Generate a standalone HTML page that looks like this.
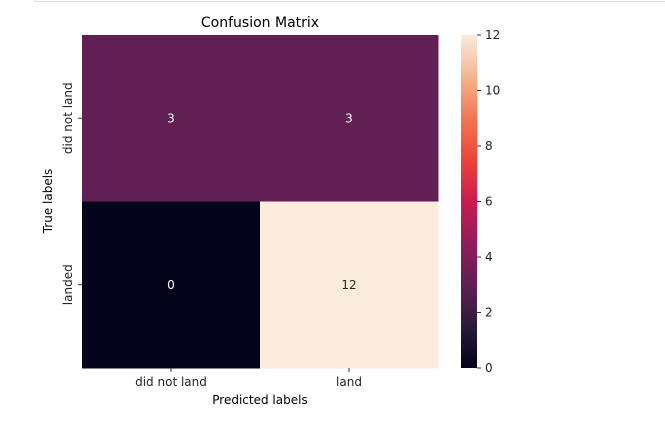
<!DOCTYPE html>
<html><head><meta charset="utf-8"><style>
body{margin:0;background:#fff;width:665px;height:419px;overflow:hidden;font-family:"DejaVu Sans","Liberation Sans",sans-serif;}
</style></head><body>
<svg width="665" height="419" font-family="DejaVu Sans, Liberation Sans, sans-serif">
<defs><linearGradient id="rocket" x1="0" y1="1" x2="0" y2="0">
<stop offset="0" stop-color="#03051a"/><stop offset="0.125" stop-color="#2b1a3d"/>
<stop offset="0.25" stop-color="#611f53"/><stop offset="0.375" stop-color="#921c5b"/>
<stop offset="0.5" stop-color="#cb1b4f"/><stop offset="0.625" stop-color="#ed4438"/>
<stop offset="0.75" stop-color="#f37651"/><stop offset="0.875" stop-color="#f6b48e"/>
<stop offset="1" stop-color="#faebdd"/></linearGradient></defs>
<line x1="34" y1="1.5" x2="665" y2="1.5" stroke="#ddd"/>
<line x1="34.5" y1="0" x2="34.5" y2="2" stroke="#ddd"/>
<text x="260" y="27" text-anchor="middle" font-size="14" fill="#000">Confusion Matrix</text>
<g id="cells"></g>
<g id="axes" font-size="12" fill="#222"></g>
<rect x="461" y="35" width="16" height="333" fill="url(#rocket)"/>
<g id="cbticks" font-size="12" fill="#222"></g>
<text x="260" y="404" text-anchor="middle" font-size="12">Predicted labels</text>
<text transform="translate(52,201) rotate(-90)" text-anchor="middle" font-size="12">True labels</text>
</svg>
<script>
const xLabels=["did not land","land"];
const yLabels=["did not land","landed"];
const values=[[3,3],[0,12]];
const cbTicks=[0,2,4,6,8,10,12];
const vmin=0,vmax=12;
const X0=82,X1=438,Y0=35,Y1=368;
const ns="http://www.w3.org/2000/svg";
const stops=[[0,[3,5,26]],[0.125,[43,26,61]],[0.25,[97,31,83]],[0.375,[146,28,91]],[0.5,[203,27,79]],[0.625,[237,68,56]],[0.75,[243,118,81]],[0.875,[246,180,142]],[1,[250,235,221]]];
function color(v){let t=(v-vmin)/(vmax-vmin);for(let i=1;i<stops.length;i++){if(t<=stops[i][0]){const a=stops[i-1],b=stops[i];const f=(t-a[0])/(b[0]-a[0]);const c=a[1].map((x,k)=>Math.round(x+(b[1][k]-x)*f));return `rgb(${c})`;}}return "rgb(250,235,221)";}
const cw=(X1-X0)/xLabels.length,ch=(Y1-Y0)/yLabels.length;
const cells=document.getElementById('cells'),axes=document.getElementById('axes'),cb=document.getElementById('cbticks');
function mk(t,a,p){const e=document.createElementNS(ns,t);for(const k in a)e.setAttribute(k,a[k]);p.appendChild(e);return e;}
values.forEach((row,r)=>row.forEach((v,c)=>{
 const rc=mk('rect',{x:X0+c*cw,y:Y0+r*ch,width:cw+0.5,height:ch+0.5,fill:color(v)},cells);
 
 
 const t=mk('text',{x:X0+(c+0.5)*cw,y:Y0+(r+0.5)*ch+4,'text-anchor':'middle','font-size':12,fill:(v-vmin)/(vmax-vmin)>0.6?'#262626':'#fff'},cells);
 t.textContent=v;
 
 
}));
xLabels.forEach((l,i)=>{const x=X0+(i+0.5)*cw;
 mk('line',{x1:x,y1:Y1,x2:x,y2:Y1+4,stroke:'#333'},axes);
 const t=mk('text',{x:x,y:Y1+18,'text-anchor':'middle'},axes);t.textContent=l;
 
 });
yLabels.forEach((l,i)=>{const y=Y0+(i+0.5)*ch;
 mk('line',{x1:X0-4,y1:y,x2:X0,y2:y,stroke:'#333'},axes);
 const t=mk('text',{transform:`translate(${X0-10},${y}) rotate(-90)`,'text-anchor':'middle'},axes);t.textContent=l;
 
 });
cbTicks.forEach(v=>{const y=Y1-(v-vmin)/(vmax-vmin)*(Y1-Y0);
 mk('line',{x1:477,y1:y,x2:481,y2:y,stroke:'#333'},cb);
 const t=mk('text',{x:485,y:y+4},cb);t.textContent=v;
 
 });
</script>
</body></html>
